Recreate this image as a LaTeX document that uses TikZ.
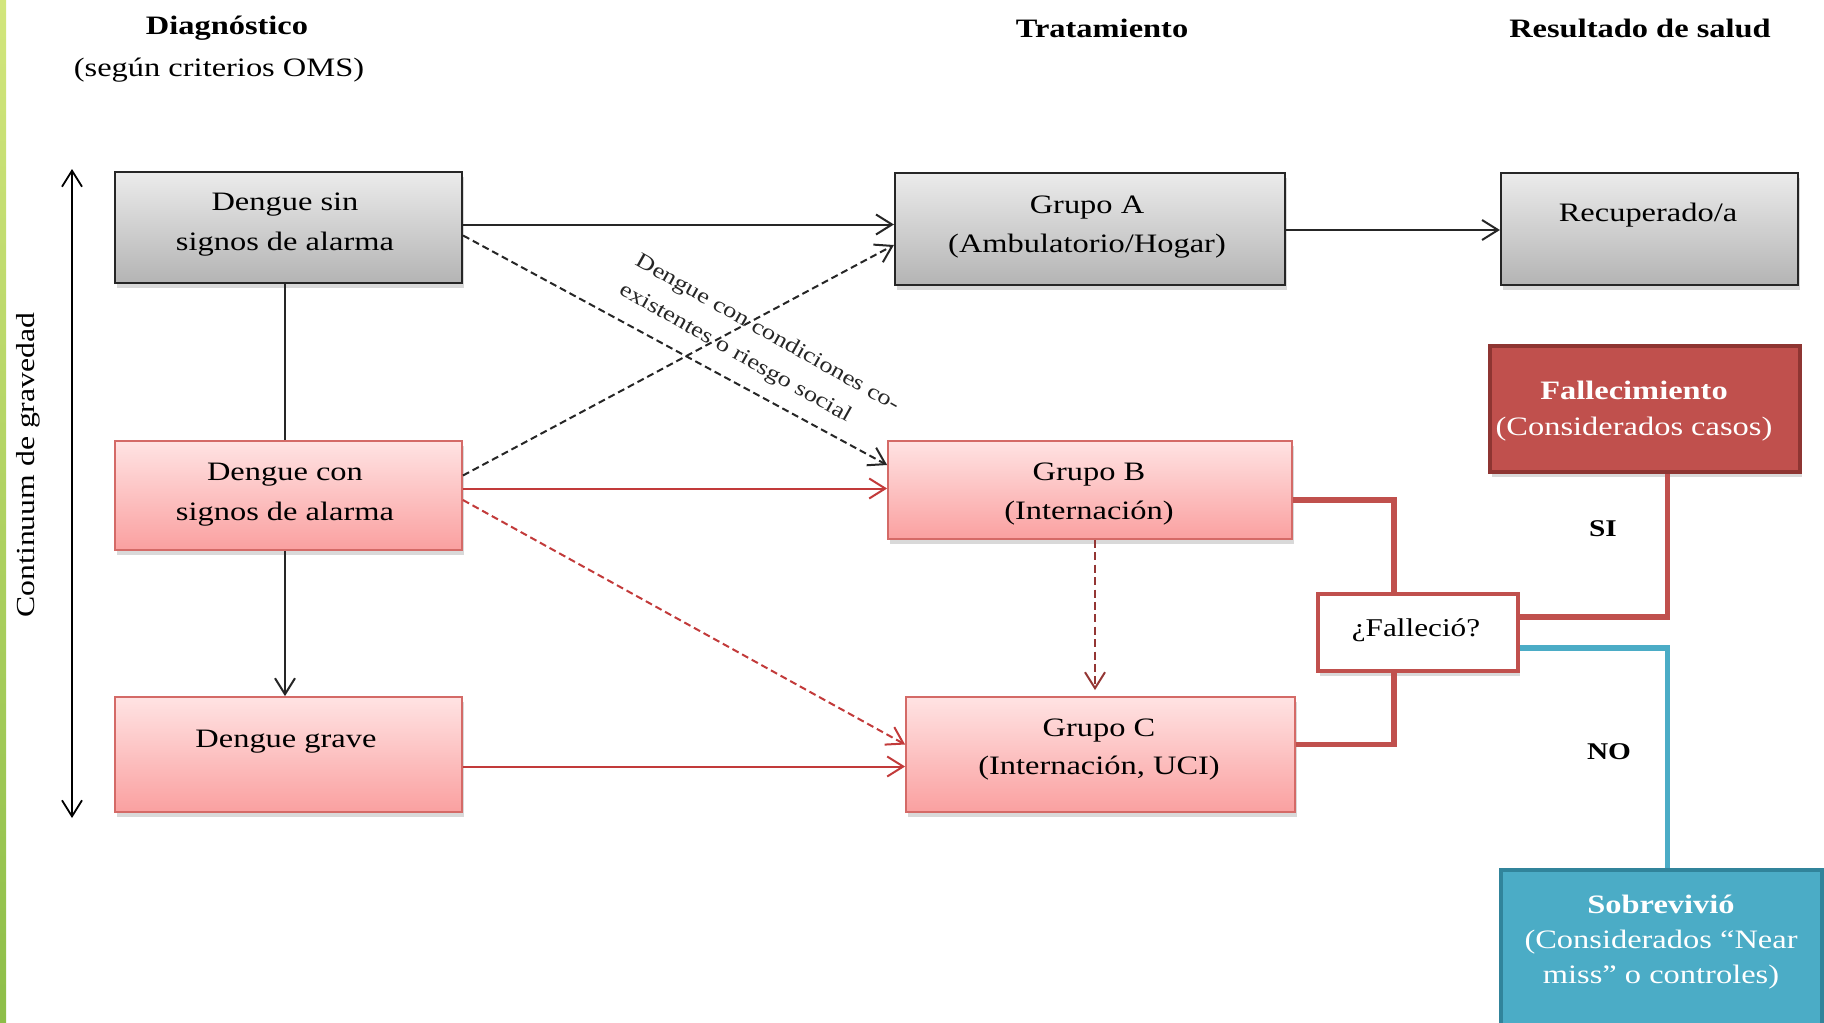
\documentclass[tikz,border=0pt]{standalone}
\usepackage{fontspec}
\setmainfont{Liberation Serif}[FakeStretch=1.22]
\usetikzlibrary{arrows.meta,shadows,calc}
\definecolor{grayT}{HTML}{EBEBEB}
\definecolor{grayB}{HTML}{B4B4B4}
\definecolor{grayBd}{HTML}{262626}
\definecolor{pinkT}{HTML}{FFE3E3}
\definecolor{pinkB}{HTML}{FAA0A0}
\definecolor{pinkBd}{HTML}{D46A67}
\definecolor{boxRed}{HTML}{C0504D}
\definecolor{boxRedBd}{HTML}{8E3532}
\definecolor{boxBlue}{HTML}{4BACC6}
\definecolor{boxBlueBd}{HTML}{31849B}
\definecolor{arrRed}{HTML}{C23A3A}
\definecolor{arrDkRed}{HTML}{943634}
\definecolor{greenT}{HTML}{D2E67C}
\definecolor{greenB}{HTML}{8DBE48}
\begin{document}
\begin{tikzpicture}[x=0.5pt,y=-0.5pt,
  basebox/.style={draw, inner sep=0pt,
    drop shadow={opacity=0.3, shadow xshift=1pt, shadow yshift=-2.5pt}},
  graybox/.style={basebox, draw=grayBd, line width=1.1pt, top color=grayT, bottom color=grayB},
  pinkbox/.style={basebox, draw=pinkBd, line width=0.9pt, top color=pinkT, bottom color=pinkB},
  txt/.style={align=center, inner sep=0pt, font=\fontsize{13.3}{20}\selectfont},
  head/.style={align=center, inner sep=0pt, font=\fontsize{13.3}{20}\selectfont\bfseries},
  arr/.style={-{Straight Barb[length=8pt,width=10pt]}, line width=1pt},
  blackarr/.style={arr, draw=black!85},
  redarr/.style={arr, draw=arrRed},
  dashline/.style={dash pattern=on 3.5pt off 2pt},
  longdash/.style={dash pattern=on 4pt off 2.2pt},
  thickred/.style={draw=boxRed, line width=2.6pt},
  thickblue/.style={draw=boxBlue, line width=2.6pt}
]
\useasboundingbox (0,0) rectangle (1824,1022);
% left decorative strip
\fill[top color=greenT, bottom color=greenB] (0,0) rectangle (6,1022);

% headers
\node[head] (h1) at (227,28) {Diagnóstico};
\node[txt] (h1b) at (219,70) {(según criterios OMS)};
\node[head] (h2) at (1102,28) {Tratamiento};
\node[head] (h3) at (1640,28) {Resultado de salud};

% severity axis
\coordinate (vt) at (72,169);
\coordinate (vb) at (72,818);
\draw[{Straight Barb[length=8pt,width=10pt]}-{Straight Barb[length=8pt,width=10pt]}, line width=0.9pt] (vt) -- (vb);
\node[rotate=90, inner sep=0pt, font=\fontsize{13}{16}\selectfont] (cont) at (28,465) {Continuum de gravedad};

% boxes
\node[graybox, minimum width=173.5pt, minimum height=55.5pt] (dsin) at (288.5,227.5) {};
\node[pinkbox, minimum width=173.5pt, minimum height=54.5pt] (dcon) at (288.5,495.5) {};
\node[pinkbox, minimum width=173.5pt, minimum height=57.5pt] (dgrave) at (288.5,754.5) {};
\node[graybox, minimum width=195pt, minimum height=56pt] (gA) at (1090,229) {};
\node[graybox, minimum width=148.5pt, minimum height=56pt] (rec) at (1649.5,229) {};
\node[pinkbox, minimum width=202pt, minimum height=49pt] (gB) at (1090,490) {};
\node[pinkbox, minimum width=194.5pt, minimum height=57.5pt] (gC) at (1100.5,754.5) {};
\node[basebox, draw=boxRedBd, line width=2pt, fill=boxRed, minimum width=155pt, minimum height=63pt] (fall) at (1645,409) {};
\node[basebox, draw=boxRed, line width=2.2pt, fill=white, minimum width=100pt, minimum height=38.5pt] (q) at (1418,632.5) {};
\node[basebox, draw=boxBlueBd, line width=2pt, fill=boxBlue, minimum width=160.5pt, minimum height=85pt] (sob) at (1661.5,955) {};

% box texts
\node[txt] (dsinT) at (285,225) {Dengue sin\\signos de alarma};
\node[txt] (dconT) at (285,494.5) {Dengue con\\signos de alarma};
\node[txt] (dgraveT) at (286,742) {Dengue grave};
\node[txt, font=\fontsize{13.3}{19.5}\selectfont] (gAT) at (1087,227.5) {Grupo A\\(Ambulatorio/Hogar)};
\node[txt] (recT) at (1648,215) {Recuperado/a};
\node[txt, font=\fontsize{13.3}{19.5}\selectfont] (gBT) at (1089,494.5) {Grupo B\\(Internación)};
\node[txt, font=\fontsize{13.3}{19}\selectfont] (gCT) at (1099,750) {Grupo C\\(Internación, UCI)};
\node[txt, text=white, font=\fontsize{13.3}{18}\selectfont] (fallT) at (1634,411) {\textbf{Fallecimiento}\\(Considerados casos)};
\node[txt, font=\fontsize{12.8}{18}\selectfont] (qT) at (1416,630) {¿Falleció?};
\node[txt, text=white, font=\fontsize{13.3}{17.5}\selectfont] (sobT) at (1661,942) {\textbf{Sobrevivió}\\(Considerados “Near\\miss” o controles)};

% SI / NO labels
\node[head, font=\fontsize{12}{14}\selectfont\bfseries] (si) at (1603,529) {SI};
\node[head, font=\fontsize{12}{14}\selectfont\bfseries] (no) at (1609,752) {NO};

% connectors (diagnosis -> treatment)
\draw[blackarr] ($(dsin.east)+(0,-3)$) -- ($(gA.west)+(0,-4.5)$);
\draw[blackarr, dashline] ($(dsin.east)+(0,8)$) -- ($(gB.west)+(0,-25)$);
\draw[blackarr, dashline] ($(dcon.east)+(0,-20)$) -- ($(gA.west)+(0,16)$);
\draw[redarr] ($(dcon.east)+(0,-7)$) -- ($(gB.west)+(0,-1.5)$);
\draw[redarr, dashline] ($(dcon.east)+(0,4.5)$) -- ($(gC.west)+(0,-10)$);
\draw[redarr] ($(dgrave.east)+(0,12)$) -- ($(gC.west)+(0,12)$);

% vertical connectors in diagnosis column
\draw[line width=1pt, draw=black!85] ($(dsin.south)+(-3.5,0)$) -- ($(dcon.north)+(-3.5,0)$);
\draw[blackarr] ($(dcon.south)+(-3.5,0)$) -- ($(dgrave.north)+(-3.5,0)$);

% Grupo B -> Grupo C
\draw[arr, draw=arrDkRed, longdash] ($(gB.south)+(5,0)$) -- ($(gC.north)+(-5.5,-6)$);

% Grupo A -> Recuperado
\draw[blackarr] ($(gA.east)+(0,1)$) -- ($(rec.west)+(0,1)$);

% outcome connectors
\draw[thickred] ($(gB.east)+(0,10)$) -| ($(q.north)+(-24,0)$);
\draw[thickred] ($(gC.east)+(0,-10)$) -| ($(q.south)+(-24,0)$);
\draw[thickred] ($(q.east)+(0,-15.5)$) -| ($(fall.south)+(22.5,0)$);
\draw[thickblue] ($(q.east)+(0,15.5)$) -| ($(sob.north)+(6,0)$);

% rotated label
\node[rotate=-29.4, align=left, inner sep=0pt, text=black!85, font=\fontsize{10.8}{16.5}\selectfont] (cond) at (759,348) {Dengue con condiciones co-\\existentes o riesgo social};
\end{tikzpicture}
\end{document}
